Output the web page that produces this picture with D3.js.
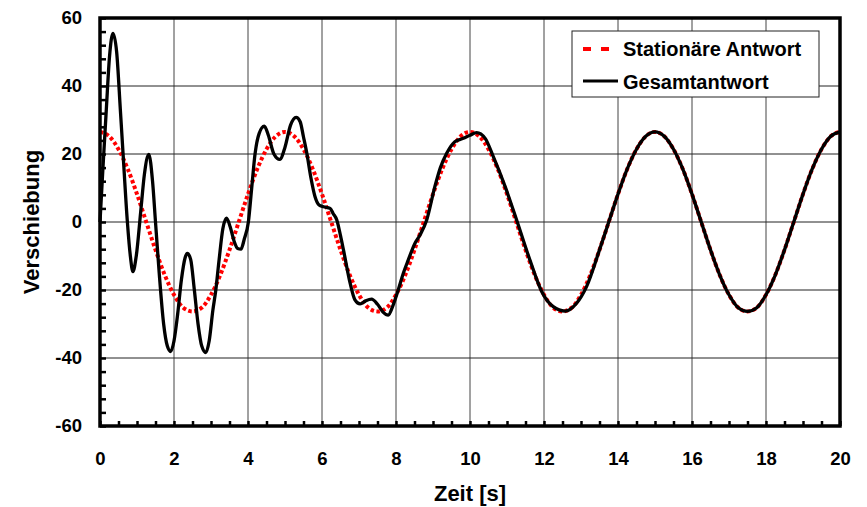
<!DOCTYPE html>
<html>
<head>
<meta charset="utf-8">
<script src="https://cdn.jsdelivr.net/npm/d3@7"></script>
<style>
  body { margin: 0; background: #fff; }
  svg text { font-family: "Liberation Sans", Arial, sans-serif; font-weight: bold; fill: #000; }
</style>
</head>
<body>
<svg width="867" height="507"></svg>
<script>
// Stationäre Antwort (rot gepunktet)
const statT = [0,0.25,0.5,0.75,1,1.25,1.5,1.75,2,2.25,2.5,2.75,3,3.25,3.5,3.75,4,4.25,4.5,4.75,
  5,5.25,5.5,5.75,6,6.25,6.5,6.75,7,7.25,7.5,7.75,8,8.25,8.5,8.75,9,9.25,9.5,9.75,
  10,10.25,10.5,10.75,11,11.25,11.5,11.75,12,12.25,12.5,12.75,13,13.25,13.5,13.75,14,14.25,14.5,14.75,
  15,15.25,15.5,15.75,16,16.25,16.5,16.75,17,17.25,17.5,17.75,18,18.25,18.5,18.75,19,19.25,19.5,19.75,20];
const statV = [26.5,25.2,21.4,15.6,8.2,0,-8.2,-15.6,-21.4,-25.2,-26.3,-25.2,-21.4,-15.6,-8.2,0,8.2,15.6,21.4,25.2,
  26.5,25.2,21.4,15.6,8.2,0,-8.2,-15.6,-21.4,-25.2,-26.3,-25.2,-21.4,-15.6,-8.2,0,8.2,15.6,21.4,25.2,
  26.5,25.2,21.4,15.6,8.2,0,-8.2,-15.6,-21.4,-25.2,-26.3,-25.2,-21.4,-15.6,-8.2,0,8.2,15.6,21.4,25.2,
  26.5,25.2,21.4,15.6,8.2,0,-8.2,-15.6,-21.4,-25.2,-26.3,-25.2,-21.4,-15.6,-8.2,0,8.2,15.6,21.4,25.2,26.5];

// Gesamtantwort (schwarz)
const gesT = [0,0.08,0.17,0.26,0.35,0.45,0.55,0.62,0.74,0.82,0.89,0.98,1.1,1.2,1.32,1.42,1.5,1.6,1.72,1.82,1.91,
  2,2.1,2.2,2.3,2.36,2.45,2.55,2.65,2.75,2.86,2.95,3.05,3.13,3.22,3.32,3.42,3.52,3.62,3.72,3.81,3.9,
  4.01,4.1,4.19,4.3,4.44,4.55,4.7,4.86,5,5.15,5.3,5.41,5.5,5.59,5.7,5.81,5.92,6.04,6.22,6.3,6.4,6.5,6.58,
  6.76,6.89,7.03,7.18,7.34,7.5,7.65,7.79,7.92,8.06,8.2,8.33,8.51,8.65,8.83,9.05,9.2,9.37,9.59,9.82,10,
  10.18,10.41,10.63,10.95,11.26,11.62,11.94,12.25,12.57,12.88,13.15,13.5,13.75,14,14.25,14.5,14.75,
  15,15.25,15.5,15.75,16,16.25,16.5,16.75,17,17.25,17.5,17.75,18,18.25,18.5,18.75,19,19.25,19.5,19.75,20];
const gesV = [0,16,33,49,55.5,50,33,20.7,0,-10,-14.6,-10,3,14,19.9,12,0,-15,-30,-36.5,-38.1,
  -35,-27,-17,-10.5,-9.2,-11,-20,-30,-36.5,-38.4,-35,-26,-20,-11,-2,1.1,-1.5,-5.5,-7.8,-8,-5,
  0,10,20,26,28.2,25.5,20,18.4,22,28.5,30.8,29.5,25,20.2,13,7.5,5,4.5,4,2.5,0.6,-4,-8.2,
  -18,-22.9,-24.1,-23.2,-22.7,-24.2,-26.5,-27.4,-24.5,-20,-15,-11.2,-6.3,-3.8,0.6,10.4,16,20.2,23.6,24.6,25.5,
  26.3,24.6,19.2,10.4,0.6,-11.2,-20.5,-24.9,-26.2,-23.9,-19,-8.2,0,8.2,15.6,21.4,25.2,
  26.5,25.2,21.4,15.6,8.2,0,-8.2,-15.6,-21.4,-25.2,-26.3,-25.2,-21.4,-15.6,-8.2,0,8.2,15.6,21.4,25.2,26.5];

const xTicks = [0,2,4,6,8,10,12,14,16,18,20];
const yTicks = [-60,-40,-20,0,20,40,60];
const seriesNames = ["Stationäre Antwort", "Gesamtantwort"];

const mLeft = 100, mRight = 840, mTop = 18, mBottom = 426;

const svg = d3.select("svg");
const x = d3.scaleLinear().domain([0, 20]).range([mLeft, mRight]);
const y = d3.scaleLinear().domain([-60, 60]).range([mBottom, mTop]);

// Gitter
svg.append("g").selectAll("line").data(xTicks).enter().append("line")
  .attr("x1", d => x(d)).attr("x2", d => x(d))
  .attr("y1", mTop).attr("y2", mBottom)
  .attr("stroke", "#444").attr("stroke-width", 1);
svg.append("g").selectAll("line").data(yTicks).enter().append("line")
  .attr("x1", mLeft).attr("x2", mRight)
  .attr("y1", d => y(d)).attr("y2", d => y(d))
  .attr("stroke", "#222").attr("stroke-width", 1);

// Kleine Striche nach innen
svg.append("g")
  .attr("transform", `translate(0,${mBottom})`)
  .call(d3.axisBottom(x).tickValues(d3.range(0, 20.01, 0.5)).tickSize(-5).tickFormat(""))
  .call(g => g.select(".domain").remove())
  .call(g => g.selectAll("line").attr("stroke", "#000").attr("stroke-width", 2.5));
svg.append("g")
  .attr("transform", `translate(${mLeft},0)`)
  .call(d3.axisLeft(y).tickValues(d3.range(-60, 60.01, 4)).tickSize(-6).tickFormat(""))
  .call(g => g.select(".domain").remove())
  .call(g => g.selectAll("line").attr("stroke", "#000").attr("stroke-width", 2.5));

// Beschriftung (normaler Bindestrich statt Unicode-Minus)
svg.append("g")
  .attr("transform", `translate(0,${mBottom})`)
  .call(d3.axisBottom(x).tickValues(xTicks).tickSize(0).tickPadding(26).tickFormat(d => String(d)))
  .call(g => g.select(".domain").remove())
  .call(g => g.selectAll("text").style("font-size", "18.5px").style("font-family", "Liberation Sans, Arial, sans-serif"));
svg.append("g")
  .attr("transform", `translate(${mLeft},0)`)
  .call(d3.axisLeft(y).tickValues(yTicks).tickSize(0).tickPadding(18).tickFormat(d => String(d)))
  .call(g => g.select(".domain").remove())
  .call(g => g.selectAll("text").style("font-size", "18.5px").style("font-family", "Liberation Sans, Arial, sans-serif"));

// Linien
const line = d3.line().x(d => x(d[0])).y(d => y(d[1])).curve(d3.curveMonotoneX);

svg.append("path")
  .datum(d3.zip(statT, statV))
  .attr("d", line)
  .attr("fill", "none")
  .attr("stroke", "#ff0000")
  .attr("stroke-width", 4)
  .attr("stroke-dasharray", "3.5,2.5");

svg.append("path")
  .datum(d3.zip(gesT, gesV))
  .attr("d", line)
  .attr("fill", "none")
  .attr("stroke", "#000")
  .attr("stroke-width", 3.3)
  .attr("stroke-linejoin", "round");

// Rahmen
svg.append("rect")
  .attr("x", mLeft).attr("y", mTop)
  .attr("width", mRight - mLeft).attr("height", mBottom - mTop)
  .attr("fill", "none").attr("stroke", "#000").attr("stroke-width", 3.5);

// Legende
const leg = svg.append("g");
leg.append("rect").attr("x", 572).attr("y", 31).attr("width", 247).attr("height", 66)
  .attr("fill", "#fff").attr("stroke", "#222").attr("stroke-width", 1);
leg.append("line").attr("x1", 583).attr("x2", 612).attr("y1", 49).attr("y2", 49)
  .attr("stroke", "#ff0000").attr("stroke-width", 4).attr("stroke-dasharray", "8,10");
leg.append("line").attr("x1", 583).attr("x2", 618).attr("y1", 81).attr("y2", 81)
  .attr("stroke", "#000").attr("stroke-width", 3);
leg.selectAll("text").data(seriesNames).enter().append("text")
  .attr("x", 623).attr("y", (d, i) => 56 + i * 32.5)
  .style("font-size", "20px")
  .text(d => d);

// Achsentitel
svg.append("text")
  .attr("x", (mLeft + mRight) / 2).attr("y", 501)
  .attr("text-anchor", "middle")
  .style("font-size", "22px")
  .text("Zeit [s]");
svg.append("text")
  .attr("transform", `translate(39,${y(0)}) rotate(-90)`)
  .attr("text-anchor", "middle")
  .style("font-size", "22px")
  .text("Verschiebung");
</script>
</body>
</html>
